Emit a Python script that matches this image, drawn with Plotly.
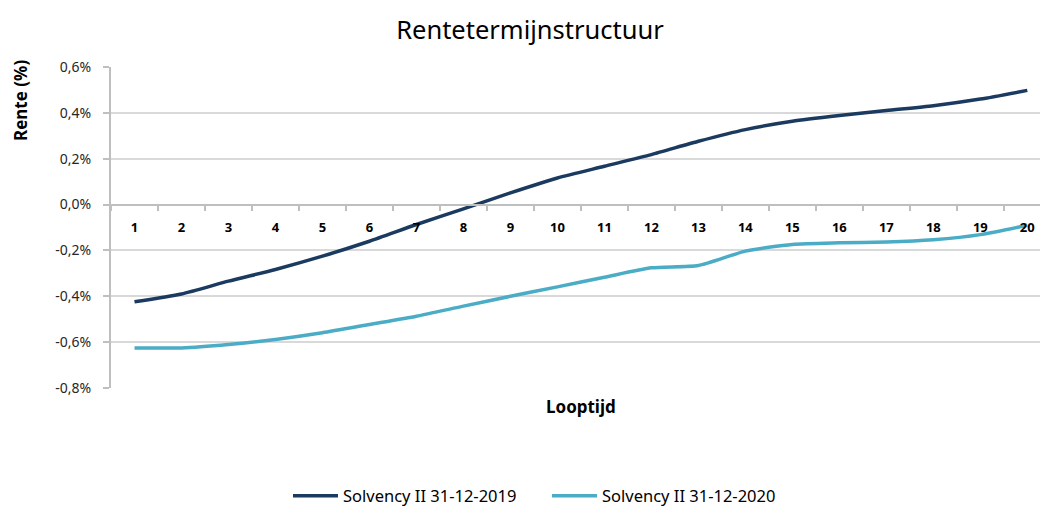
import plotly.graph_objects as go

looptijd = [str(i) for i in range(1, 21)]
rente_2019 = [-0.424, -0.390, -0.334, -0.283, -0.225, -0.160, -0.087, -0.019, 0.051, 0.116,
              0.167, 0.218, 0.276, 0.327, 0.363, 0.388, 0.410, 0.431, 0.460, 0.498]
rente_2020 = [-0.625, -0.625, -0.610, -0.588, -0.559, -0.523, -0.487, -0.443, -0.400, -0.359,
              -0.317, -0.276, -0.266, -0.203, -0.174, -0.167, -0.163, -0.153, -0.131, -0.090]
y_ticks = [-0.8, -0.6, -0.4, -0.2, 0.0, 0.2, 0.4, 0.6]
y_ticktext = ["-0,8%", "-0,6%", "-0,4%", "-0,2%", "0,0%", "0,2%", "0,4%", "0,6%"]

FONT = "Noto Sans"
TOP, BOTTOM, LEFT = 67, 388, 111
H = 506
fig = go.Figure()
fig.add_trace(go.Scatter(x=looptijd, y=rente_2019, mode="lines", name="Solvency II 31-12-2019",
                         line=dict(color="#1B3A5F", width=3.5, shape="spline", smoothing=0.6)))
fig.add_trace(go.Scatter(x=looptijd, y=rente_2020, mode="lines", name="Solvency II 31-12-2020",
                         line=dict(color="#4BACC6", width=3.5, shape="spline", smoothing=0.6)))

ymin, ymax = -0.8, 0.6
zero_frac = (0 - ymin) / (ymax - ymin)
plot_h = BOTTOM - TOP
plot_w = 1040 - LEFT

def py(pix):
    return (BOTTOM - pix) / plot_h

def px(pix):
    return (pix - LEFT) / plot_w

fig.update_layout(
    width=1040, height=H,
    margin=dict(l=LEFT, r=0, t=TOP, b=H - BOTTOM, autoexpand=False),
    paper_bgcolor="white", plot_bgcolor="white",
    font=dict(family=FONT, size=12, color="#000000"),
    title=dict(text="Rentetermijnstructuur", x=530 / 1040, xanchor="center", xref="container",
               y=1 - 30 / H, yanchor="middle", yref="container",
               font=dict(family=FONT, size=25.5, color="#000000")),
    showlegend=True,
    legend=dict(orientation="h", x=px(293 - 5), xanchor="left",
                y=py(496), yanchor="middle", entrywidth=199, entrywidthmode="pixels",
                font=dict(family=FONT, size=16.5, color="#000000"), itemwidth=45, tracegroupgap=0),
    xaxis=dict(type="category", range=[-0.5, 19.27], showgrid=False, automargin=False,
               showline=True, linecolor="#BFBFBF", linewidth=2,
               ticks="outside", ticklen=5, tickcolor="#BFBFBF", tickwidth=1.5, tickson="boundaries",
               anchor="free", position=zero_frac, ticklabelstandoff=11,
               tickfont=dict(family=FONT, size=13, color="#000000", weight="bold"),
               zeroline=False),
    yaxis=dict(range=[ymin, ymax], tickvals=y_ticks, ticktext=y_ticktext, automargin=False,
               showgrid=True, gridcolor="#D9D9D9", gridwidth=2,
               showline=True, linecolor="#BFBFBF", linewidth=2,
               ticks="outside", ticklen=6, tickcolor="#BFBFBF", tickwidth=1.5,
               ticklabelstandoff=9,
               zeroline=False, tickfont=dict(family=FONT, size=14, color="#262626")),
    annotations=[
        dict(text="<b>Looptijd</b>", x=px(581), xref="paper", y=py(406),
             yref="paper", xanchor="center", yanchor="middle", showarrow=False,
             font=dict(family=FONT, size=17, color="#000000")),
        dict(text="<b>Rente (%)</b>", x=px(20), xref="paper", xanchor="center",
             y=py(101), yref="paper", yanchor="middle", textangle=-90, showarrow=False,
             font=dict(family=FONT, size=17, color="#000000")),
    ],
)

fig.write_html("out.html", config={"displayModeBar": False},
               post_script="document.body.style.margin='0';document.body.style.overflow='hidden';")
